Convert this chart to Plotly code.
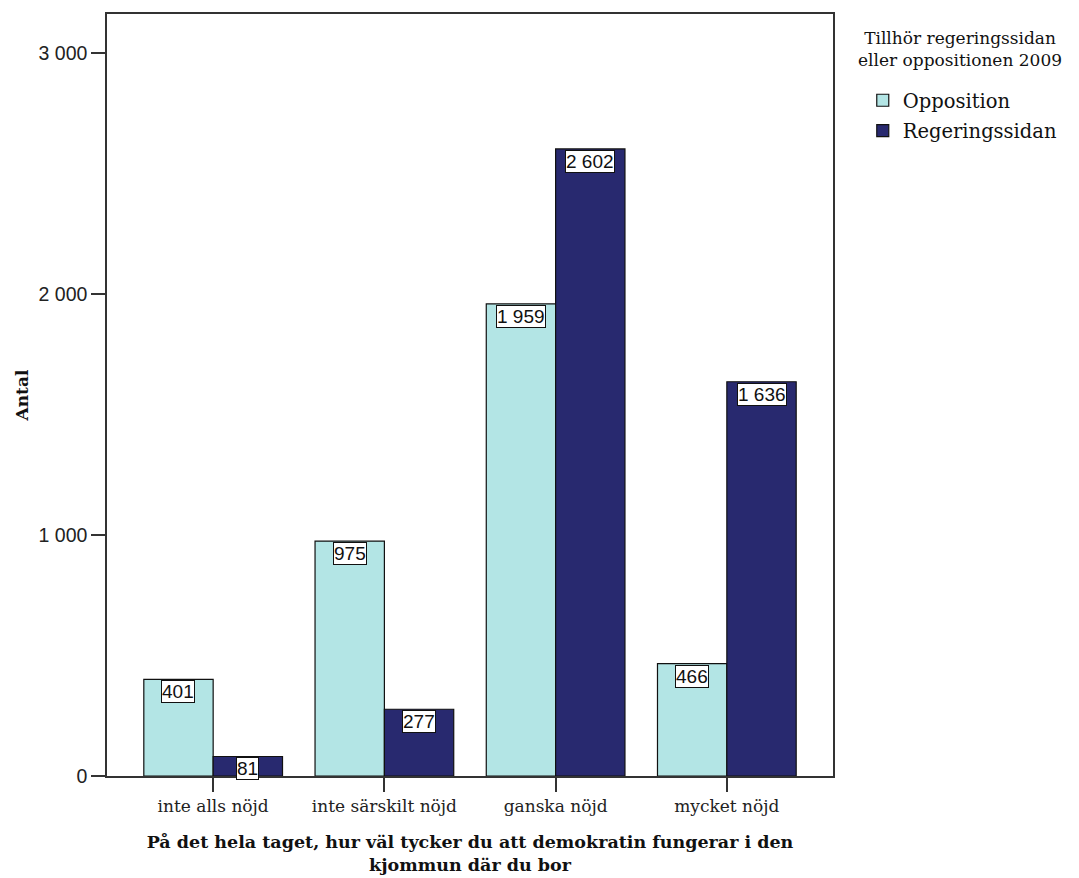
import plotly.graph_objects as go

categories = ["inte alls nöjd", "inte särskilt nöjd", "ganska nöjd", "mycket nöjd"]
opposition = [401, 975, 1959, 466]
regering = [81, 277, 2602, 1636]
series_names = ["Opposition", "Regeringssidan"]
y_ticks = [0, 1000, 2000, 3000]

colors = ["#B3E5E5", "#28296F"]
bargap = 0.19
serif = "DejaVu Serif, Liberation Serif, serif"
arial = "Liberation Sans, Arial, sans-serif"

fig = go.Figure()
for name, vals, col in zip(series_names, [opposition, regering], colors):
    fig.add_trace(go.Bar(
        x=categories, y=vals, name=name, legendgroup=name,
        marker=dict(color=col, line=dict(color="#111111", width=1.2)),
    ))

# value labels in white boxes at top inside of each bar
bw = (1 - bargap) / 2
for s, vals in enumerate([opposition, regering]):
    off = (s - 0.5) * bw
    for i, v in enumerate(vals):
        fig.add_annotation(
            x=i + off, y=v, xref="x", yref="y",
            text=f"{v:,}".replace(",", " "),
            showarrow=False, yanchor="top", xanchor="center",
            yshift=-1,
            bgcolor="white", bordercolor="#111111", borderwidth=1, borderpad=0,
            font=dict(family=arial, size=19, color="#111111"),
        )

# legend title
fig.add_annotation(
    x=1.175, y=1.0, xref="paper", yref="paper", xanchor="center", yanchor="top",
    yshift=-12,
    text="Tillhör regeringssidan<br>eller oppositionen 2009", showarrow=False,
    align="center", font=dict(family=serif, size=17, color="#111111"),
)

fig.update_layout(
    width=1071, height=870,
    paper_bgcolor="white", plot_bgcolor="white",
    margin=dict(l=99, r=246, t=6, b=102, autoexpand=False),
    barmode="group", bargap=bargap, bargroupgap=0,
    separators=", ",
    showlegend=True,
    legend=dict(
        x=1.041, y=0.912, xanchor="left", yanchor="top",
        font=dict(family=serif, size=19.5, color="#111111"),
        tracegroupgap=2,
    ),
    xaxis=dict(
        type="category", range=[-0.62, 3.62],
        showline=True, mirror=True, linecolor="#333333", linewidth=1.5,
        ticks="outside", ticklen=14, tickcolor="#333333", tickwidth=1.5,
        tickfont=dict(family=serif, size=17, color="#222222"),
        showgrid=False, automargin=False,
        title=dict(text="<b>På det hela taget, hur väl tycker du att demokratin fungerar i den<br>kjommun där du bor</b>",
                   font=dict(family=serif, size=17.5, color="#111111"), standoff=21),
    ),
    yaxis=dict(
        range=[0, 3162],
        tickvals=y_ticks,
        tickformat=",d",
        showline=True, mirror=True, linecolor="#333333", linewidth=1.5,
        ticks="outside", ticklen=14, tickcolor="#333333", tickwidth=1.5,
        tickfont=dict(family=arial, size=19.5, color="#222222"),
        showgrid=False, zeroline=False, automargin=False,
        title=dict(text="<b>Antal</b>", font=dict(family=serif, size=17, color="#111111"), standoff=6),
    ),
)

fig.write_html("out.html")
